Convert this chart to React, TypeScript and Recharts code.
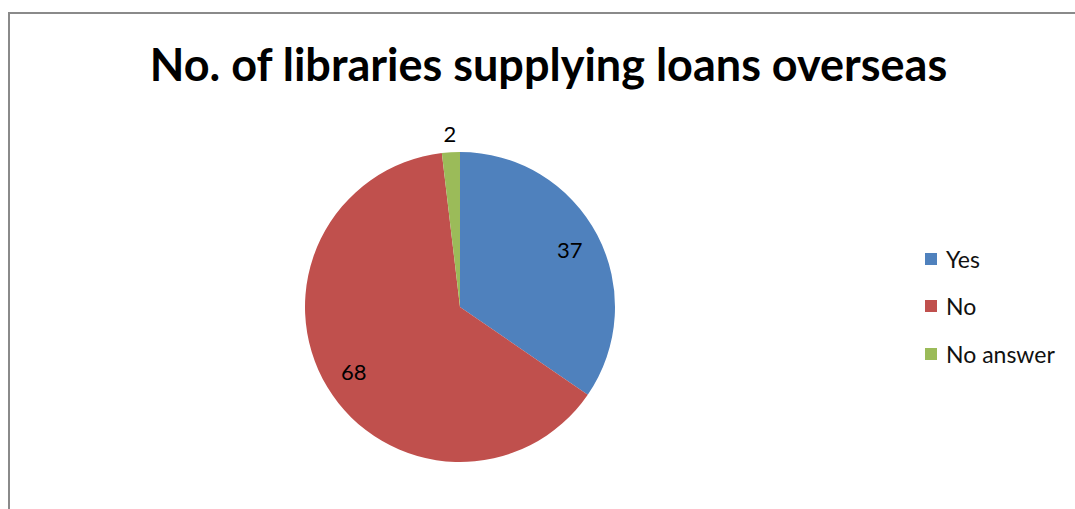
import { PieChart, Pie, Cell, Legend } from 'recharts';

const categories = ['Yes', 'No', 'No answer'];
const libraryCounts = [37, 68, 2];
const sliceColors = ['#4F81BD', '#C0504D', '#9BBB59'];

const data = categories.map((name, i) => ({ name, value: libraryCounts[i] }));

const RAD = Math.PI / 180;

// Big slices get their number inside, tiny ones just outside the rim.
function renderLabel(props: any) {
  const { cx, cy, midAngle, outerRadius, percent, value } = props;
  const r = percent > 0.1 ? outerRadius * 0.8 : outerRadius + 19;
  const x = cx + r * Math.cos(-midAngle * RAD);
  const y = cy + r * Math.sin(-midAngle * RAD);
  return (
    <text
      x={x}
      y={y}
      fill="#000"
      fontSize={22}
      fontFamily="Lato, 'Open Sans', sans-serif"
      textAnchor="middle"
      dominantBaseline="central"
    >
      {value}
    </text>
  );
}

function renderLegend() {
  return (
    <div style={{ fontFamily: "Lato, 'Open Sans', sans-serif", fontSize: 23, color: '#111' }}>
      {categories.map((name, i) => (
        <div key={name} style={{ display: 'flex', alignItems: 'center', height: 47.5 }}>
          <span
            style={{
              display: 'inline-block',
              width: 12,
              height: 12,
              background: sliceColors[i],
              marginRight: 9,
            }}
          />
          <span>{name}</span>
        </div>
      ))}
    </div>
  );
}

export default function App() {
  return (
    <div
      style={{
        position: 'absolute',
        left: 0,
        top: 0,
        width: 1075,
        height: 509,
        background: '#fff',
        overflow: 'hidden',
      }}
    >
      <div
        style={{
          position: 'absolute',
          left: 8,
          top: 12,
          width: 1200,
          height: 600,
          borderLeft: '2px solid #8a8a8a',
          borderTop: '2px solid #8a8a8a',
        }}
      />
      <div
        style={{
          position: 'absolute',
          left: 0,
          top: 36,
          width: 1097,
          textAlign: 'center',
          fontFamily: "Lato, 'Open Sans', sans-serif",
          fontWeight: 'bold',
          fontSize: 45,
          lineHeight: '56px',
          color: '#000',
        }}
      >
        No. of libraries supplying loans overseas
      </div>
      <div style={{ position: 'absolute', left: 0, top: 0 }}>
        <PieChart width={1075} height={509} margin={{ top: 0, right: 0, bottom: 0, left: 0 }}>
          <Pie
            data={data}
            dataKey="value"
            nameKey="name"
            cx={460}
            cy={307}
            outerRadius={155}
            startAngle={90}
            endAngle={-270}
            stroke="none"
            label={renderLabel}
            labelLine={false}
            isAnimationActive={false}
          >
            {data.map((d, i) => (
              <Cell key={d.name} fill={sliceColors[i]} />
            ))}
          </Pie>
          <Legend
            layout="vertical"
            content={renderLegend}
            wrapperStyle={{ position: 'absolute', left: 925, top: 235, width: 150 }}
          />
        </PieChart>
      </div>
    </div>
  );
}
